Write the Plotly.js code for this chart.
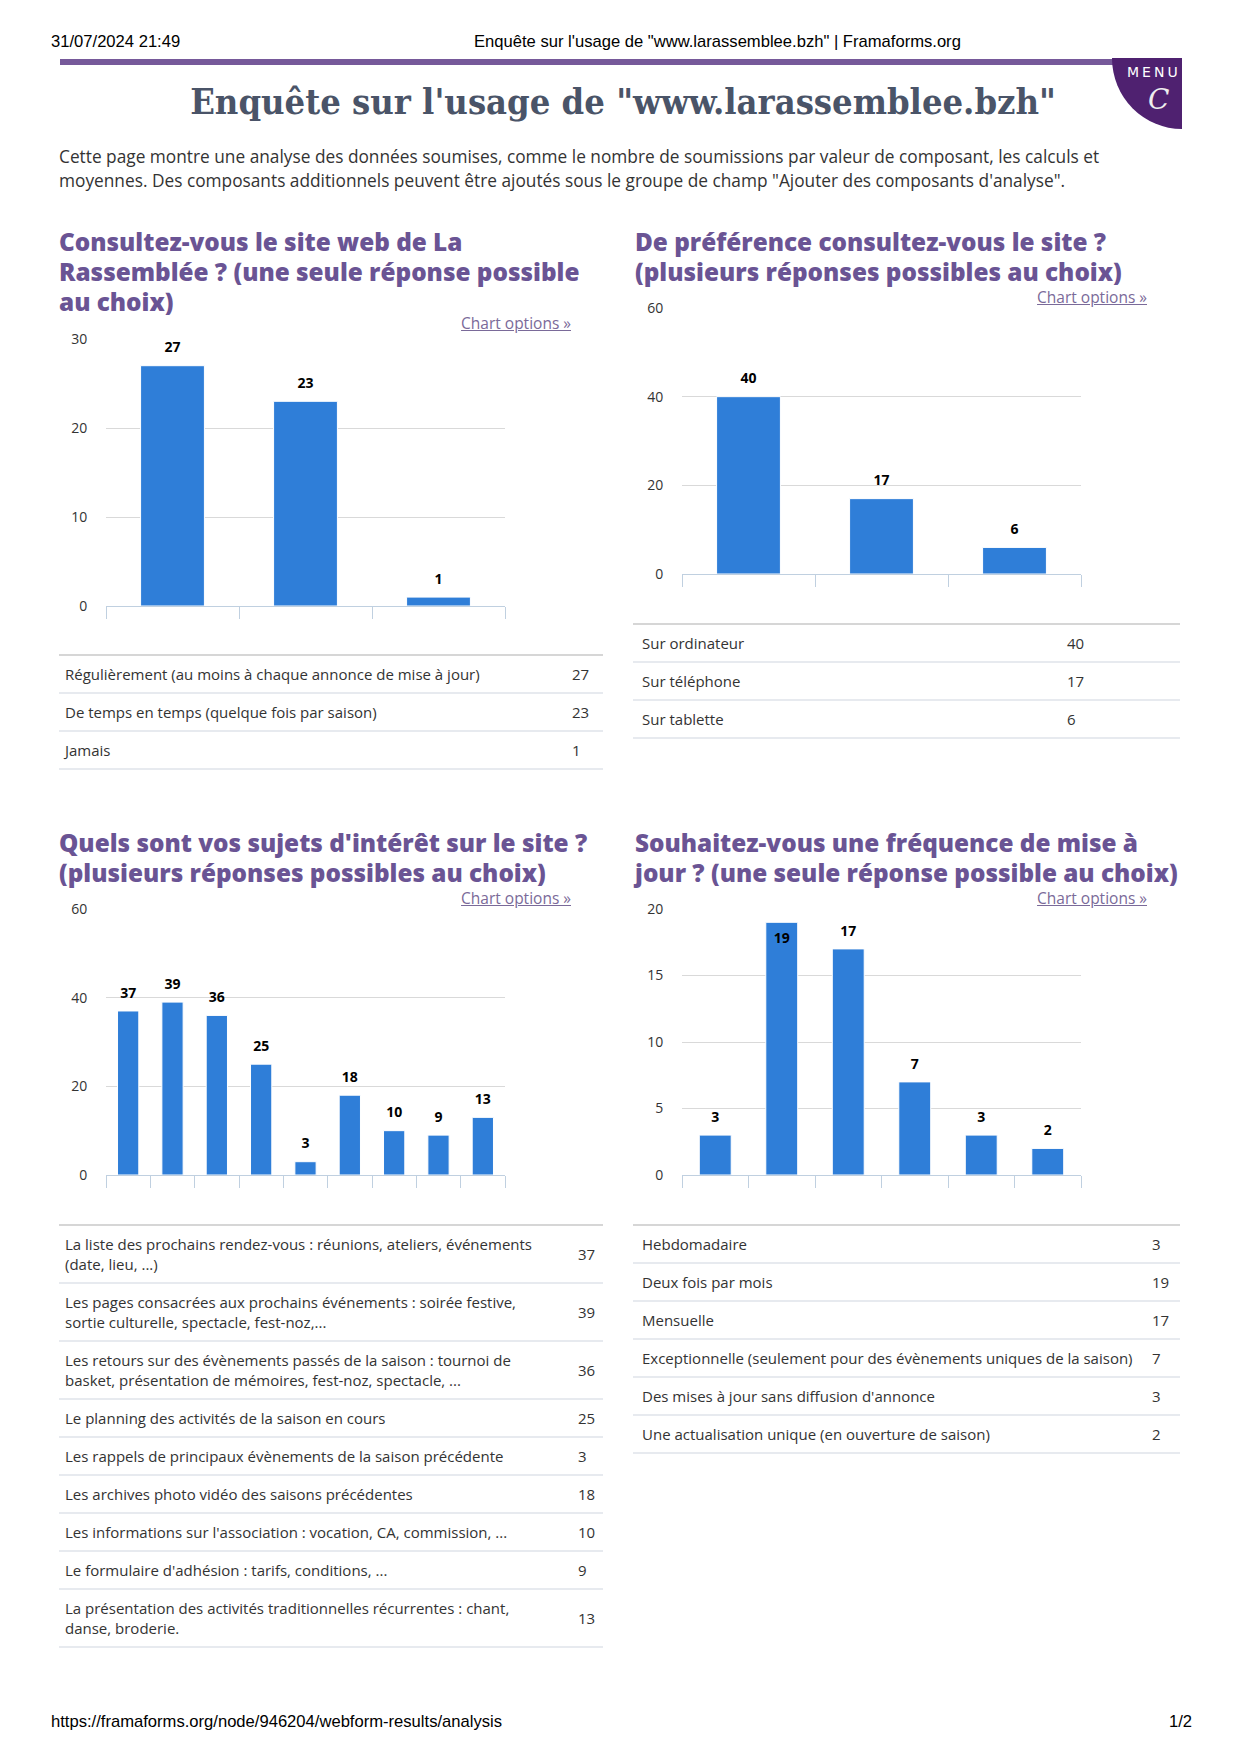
<!DOCTYPE html>
<html><head><meta charset="utf-8">
<script src="https://cdn.plot.ly/plotly-3.0.1.min.js"></script>
<style>
html,body{margin:0;padding:0;background:#fff;}
body{width:1240px;height:1754px;position:relative;overflow:hidden;font-family:'Open Sans',sans-serif;}
.abs{position:absolute;}
.hdr{font-family:'Liberation Sans',Arial,sans-serif;font-size:16.6px;line-height:18px;color:#000;white-space:nowrap;}
.maintitle{font-family:'DejaVu Serif Condensed','DejaVu Serif',serif;font-weight:bold;font-size:36px;line-height:40px;color:#4a5468;text-align:center;white-space:nowrap;}
.intro{font-size:17.3px;line-height:24px;color:#333;white-space:nowrap;}
.ql{position:absolute;font-family:'Open Sans',sans-serif;font-weight:800;font-size:24.3px;line-height:24px;color:#6a5494;white-space:nowrap;}
.opt{font-size:15.5px;line-height:16px;color:#7a6a99;text-decoration:underline;white-space:nowrap;text-align:right;}
table.res{border-collapse:collapse;table-layout:fixed;font-size:15px;line-height:20px;color:#333;border-top:2px solid #d6d6d6;}
table.res td{border-bottom:2px solid #e7eaef;padding:8px 6px;vertical-align:middle;}
.chart{position:absolute;}
</style>
</head>
<body>
<div class="abs hdr" style="left:51px;top:33px;">31/07/2024 21:49</div>
<div class="abs hdr" style="left:474px;top:33px;">Enquête sur l'usage de "www.larassemblee.bzh" | Framaforms.org</div>
<div class="abs" style="left:60px;top:59px;width:1121px;height:6px;background:#76599a;"></div>
<div class="abs" style="left:1112px;top:58px;width:70px;height:71px;background:#4f2170;border-bottom-left-radius:70px 71px;overflow:hidden;">
  <div class="abs" style="left:15px;top:6px;color:#fff;font-family:'DejaVu Sans',sans-serif;font-size:14px;line-height:16px;letter-spacing:3px;white-space:nowrap;">MENU</div>
  <div class="abs" style="left:36px;top:26px;color:#eee;font-family:'DejaVu Serif',serif;font-style:italic;font-size:28px;line-height:32px;">C</div>
</div>
<div class="abs maintitle" style="left:0;width:1246px;top:81px;">Enquête sur l'usage de "www.larassemblee.bzh"</div>
<div class="abs intro" style="left:59px;top:145px;">Cette page montre une analyse des données soumises, comme le nombre de soumissions par valeur de composant, les calculs et<br>moyennes. Des composants additionnels peuvent être ajoutés sous le groupe de champ "Ajouter des composants d'analyse".</div>

<div class="ql" style="left:59px;top:230px;">Consultez-vous le site web de La</div>
<div class="ql" style="left:59px;top:260px;">Rassemblée ? (une seule réponse possible</div>
<div class="ql" style="left:59px;top:290px;">au choix)</div>
<div class="ql" style="left:635px;top:230px;">De préférence consultez-vous le site ?</div>
<div class="ql" style="left:635px;top:260px;">(plusieurs réponses possibles au choix)</div>
<div class="ql" style="left:59px;top:831px;">Quels sont vos sujets d'intérêt sur le site ?</div>
<div class="ql" style="left:59px;top:861px;">(plusieurs réponses possibles au choix)</div>
<div class="ql" style="left:635px;top:831px;">Souhaitez-vous une fréquence de mise à</div>
<div class="ql" style="left:635px;top:861px;">jour ? (une seule réponse possible au choix)</div>

<div id="c1" class="chart"></div>
<div id="c2" class="chart"></div>
<div id="c3" class="chart"></div>
<div id="c4" class="chart"></div>

<div class="abs opt" style="right:669px;top:315px;">Chart options »</div>
<div class="abs opt" style="right:93px;top:289px;">Chart options »</div>
<div class="abs opt" style="right:669px;top:890px;">Chart options »</div>
<div class="abs opt" style="right:93px;top:890px;">Chart options »</div>

<div id="t1" class="abs"></div>
<div id="t2" class="abs"></div>
<div id="t3" class="abs"></div>
<div id="t4" class="abs"></div>

<div class="abs hdr" style="left:51px;top:1713px;">https://framaforms.org/node/946204/webform-results/analysis</div>
<div class="abs hdr" style="right:48px;top:1713px;">1/2</div>

<script>
// ---- data ----
const q1Categories = [
  "Régulièrement (au moins à chaque annonce de mise à jour)",
  "De temps en temps (quelque fois par saison)",
  "Jamais"
];
const q1Values = [27, 23, 1];
const q1Ticks = [0, 10, 20, 30];

const q2Categories = ["Sur ordinateur", "Sur téléphone", "Sur tablette"];
const q2Values = [40, 17, 6];
const q2Ticks = [0, 20, 40, 60];

const q3Categories = [
  "La liste des prochains rendez-vous : réunions, ateliers, événements (date, lieu, ...)",
  "Les pages consacrées aux prochains événements : soirée festive, sortie culturelle, spectacle, fest-noz,...",
  "Les retours sur des évènements passés de la saison : tournoi de basket, présentation de mémoires, fest-noz, spectacle, ...",
  "Le planning des activités de la saison en cours",
  "Les rappels de principaux évènements de la saison précédente",
  "Les archives photo vidéo des saisons précédentes",
  "Les informations sur l'association : vocation, CA, commission, ...",
  "Le formulaire d'adhésion : tarifs, conditions, ...",
  "La présentation des activités traditionnelles récurrentes : chant, danse, broderie."
];
const q3Values = [37, 39, 36, 25, 3, 18, 10, 9, 13];
const q3Ticks = [0, 20, 40, 60];

const q4Categories = [
  "Hebdomadaire",
  "Deux fois par mois",
  "Mensuelle",
  "Exceptionnelle (seulement pour des évènements uniques de la saison)",
  "Des mises à jour sans diffusion d'annonce",
  "Une actualisation unique (en ouverture de saison)"
];
const q4Values = [3, 19, 17, 7, 3, 2];
const q4Ticks = [0, 5, 10, 15, 20];

// ---- charts ----
function drawChart(id, plot, cats, vals, ticks) {
  const M = {l: 60, r: 20, t: 40, b: 40};
  const el = document.getElementById(id);
  const W = plot.w + M.l + M.r, H = plot.h + M.t + M.b;
  el.style.left = (plot.x - M.l) + 'px';
  el.style.top = (plot.y - M.t) + 'px';
  el.style.width = W + 'px';
  el.style.height = H + 'px';
  const ymax = ticks[ticks.length - 1];
  const bar = {
    type: 'bar', x: cats, y: vals,
    marker: {color: '#2f7ed8', line: {color: '#ffffff', width: 1}},
    hoverinfo: 'skip', showlegend: false
  };
  const labels = {
    type: 'scatter', mode: 'markers+text', x: cats, y: vals,
    text: vals.map(String),
    textposition: vals.map(v => (v / ymax > 0.9 ? 'bottom center' : 'top center')),
    marker: {size: 14, color: 'rgba(0,0,0,0)'},
    textfont: {family: 'Open Sans', size: 14, color: '#000000', weight: 'bold'},
    cliponaxis: false, hoverinfo: 'skip', showlegend: false
  };
  const layout = {
    width: W, height: H, margin: M, showlegend: false, bargap: 0.52,
    paper_bgcolor: 'rgba(0,0,0,0)', plot_bgcolor: 'rgba(0,0,0,0)',
    xaxis: {
      type: 'category', range: [-0.5, cats.length - 0.5], showticklabels: false,
      showgrid: false, zeroline: false, showline: true, linecolor: '#c0d0e0', linewidth: 1,
      ticks: 'outside', tickson: 'boundaries', ticklen: 12, tickcolor: '#c0d0e0', tickwidth: 1
    },
    yaxis: {
      range: [0, ymax], tickvals: ticks, ticktext: ticks.map(String),
      showgrid: true, gridcolor: '#d9d9d9', gridwidth: 1, zeroline: false, showline: false,
      ticks: 'outside', ticklen: 15, tickcolor: 'rgba(0,0,0,0)',
      tickfont: {family: 'Open Sans', size: 14, color: '#333333'}
    }
  };
  Plotly.newPlot(el, [bar, labels], layout, {staticPlot: true, displayModeBar: false});
}

drawChart('c1', {x: 106, y: 339, w: 399, h: 267}, q1Categories, q1Values, q1Ticks);
drawChart('c2', {x: 682, y: 308, w: 399, h: 266}, q2Categories, q2Values, q2Ticks);
drawChart('c3', {x: 106, y: 909, w: 399, h: 266}, q3Categories, q3Values, q3Ticks);
drawChart('c4', {x: 682, y: 909, w: 399, h: 266}, q4Categories, q4Values, q4Ticks);

// ---- tables ----
function drawTable(id, box, cats, vals, labelColW, padL, numPadL) {
  const holder = document.getElementById(id);
  holder.style.left = box.x + 'px';
  holder.style.top = box.y + 'px';
  const t = document.createElement('table');
  t.className = 'res';
  t.style.width = box.w + 'px';
  const cg = document.createElement('colgroup');
  const c1 = document.createElement('col'); c1.style.width = labelColW + 'px';
  const c2 = document.createElement('col');
  cg.appendChild(c1); cg.appendChild(c2); t.appendChild(cg);
  cats.forEach((c, i) => {
    const tr = document.createElement('tr');
    const a = document.createElement('td');
    a.textContent = c; a.style.paddingLeft = padL + 'px';
    const b = document.createElement('td');
    b.textContent = vals[i]; b.style.paddingLeft = numPadL + 'px';
    tr.appendChild(a); tr.appendChild(b); t.appendChild(tr);
  });
  holder.appendChild(t);
}
drawTable('t1', {x: 59, y: 654, w: 544}, q1Categories, q1Values, 507, 6, 6);
drawTable('t2', {x: 633, y: 623, w: 547}, q2Categories, q2Values, 428, 9, 6);
drawTable('t3', {x: 59, y: 1224, w: 544}, q3Categories, q3Values, 492, 6, 27);
drawTable('t4', {x: 633, y: 1224, w: 547}, q4Categories, q4Values, 513, 9, 6);
</script>
</body></html>
